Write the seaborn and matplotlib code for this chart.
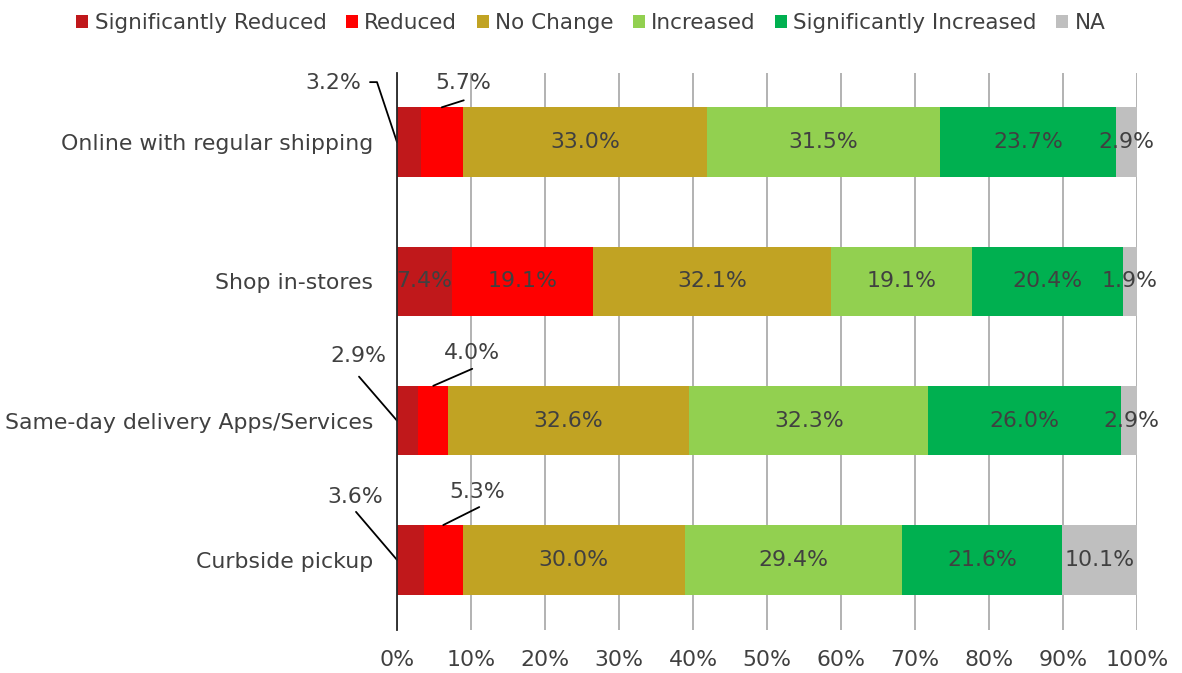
import numpy as np
import pandas as pd
import matplotlib
matplotlib.use("Agg")
import matplotlib.pyplot as plt
from matplotlib.patches import Patch
import seaborn as sns

# дані з графіка
categories = ["Online with regular shipping", "Shop in-stores",
              "Same-day delivery Apps/Services", "Curbside pickup"]
series_names = ["Significantly Reduced", "Reduced", "No Change",
                "Increased", "Significantly Increased", "NA"]
sig_reduced = [3.2, 7.4, 2.9, 3.6]
reduced = [5.7, 19.1, 4.0, 5.3]
no_change = [33.0, 32.1, 32.6, 30.0]
increased = [31.5, 19.1, 32.3, 29.4]
sig_increased = [23.7, 20.4, 26.0, 21.6]
na = [2.9, 1.9, 2.9, 10.1]
colors = ["#C0181B", "#FF0000", "#C1A323", "#92D050", "#00B050", "#BFBFBF"]
x_ticks = [0, 10, 20, 30, 40, 50, 60, 70, 80, 90, 100]

values = [sig_reduced, reduced, no_change, increased, sig_increased, na]

# підписи, винесені назовні з виносками: (рядок, серія, зсув лінії, зсув тексту) у пікселях
leaders = [
    (0, 0, [(-20, -60), (-27, -60)], (-64, -59)),
    (0, 1, [(22, -7)], (21, -24)),
    (2, 0, [(-38, -44)], (-39, -65)),
    (2, 1, [(39, -17)], (39, -33)),
    (3, 0, [(-41, -48)], (-42, -63)),
    (3, 1, [(36, -18)], (34, -33)),
]

txt = "#404040"
fs = 15.8

sns.set_style("white")
plt.rcParams["font.family"] = ["DejaVu Sans"]

W, H = 1182, 673
fig = plt.figure(figsize=(W / 100, H / 100), dpi=100)
ax_l, ax_b, ax_w, ax_h = 397, 43.5, 740, 557
ax = fig.add_axes([ax_l / W, ax_b / H, ax_w / W, ax_h / H])

left = np.zeros(len(categories))
for name, vals, col in zip(series_names, values, colors):
    df = pd.DataFrame({"cat": categories, "val": vals})
    sns.barplot(data=df, x="val", y="cat", orient="y", color=col, width=0.5,
                saturation=1, left=left, linewidth=0, ax=ax, zorder=2)
    left = left + np.array(vals)

ax.set_xlim(0, 100)
ax.set_ylim(3.5, -0.5)

# пікселі -> дані
px_x = 100 / ax_w
px_y = 4 / ax_h

leader_keys = {(r, s) for r, s, _, _ in leaders}
starts = np.cumsum([[0] * len(categories)] + values[:-1], axis=0)
for s, vals in enumerate(values):
    for r, v in enumerate(vals):
        if (r, s) in leader_keys:
            continue
        ax.text(starts[s][r] + v / 2, r, f"{v:.1f}%", ha="center", va="center",
                fontsize=fs, color=txt, zorder=4)

for r, s, pts, tpos in leaders:
    v = values[s][r]
    if s == 0:
        ex, ey = 0, r
    else:
        ex, ey = starts[s][r] + v / 2, r - 0.25
    xs = [ex] + [ex + dx * px_x for dx, dy in pts]
    ys = [ey] + [ey + dy * px_y for dx, dy in pts]
    ax.plot(xs, ys, color="black", lw=1.3, zorder=5, clip_on=False)
    ax.text(ex + tpos[0] * px_x, ey + tpos[1] * px_y, f"{v:.1f}%", ha="center",
            va="center", fontsize=fs, color=txt, zorder=5)

ax.set_xticks(x_ticks)
ax.set_xticklabels([f"{t}%" for t in x_ticks])
ax.xaxis.grid(True, color="#A6A6A6", lw=1.2, zorder=0)
ax.set_axisbelow(True)
ax.tick_params(axis="x", length=0, pad=15, labelsize=fs, labelcolor=txt)
ax.tick_params(axis="y", length=0, pad=17, labelsize=fs, labelcolor=txt)
ax.set_xlabel("")
ax.set_ylabel("")
for sp in ["top", "right", "bottom"]:
    ax.spines[sp].set_visible(False)
ax.spines["left"].set_color("#262626")
ax.spines["left"].set_linewidth(1.3)
ax.spines["left"].set_zorder(6)

handles = [Patch(facecolor=c, edgecolor="none") for c in colors]
leg = fig.legend(handles, series_names, loc="upper center", bbox_to_anchor=(0.5, 1.01),
                 ncol=6, frameon=False, fontsize=15.5, handlelength=0.55, handleheight=0.55,
                 handletextpad=0.3, columnspacing=0.9)
for t in leg.get_texts():
    t.set_color(txt)

fig.savefig("out.png", dpi=100)
